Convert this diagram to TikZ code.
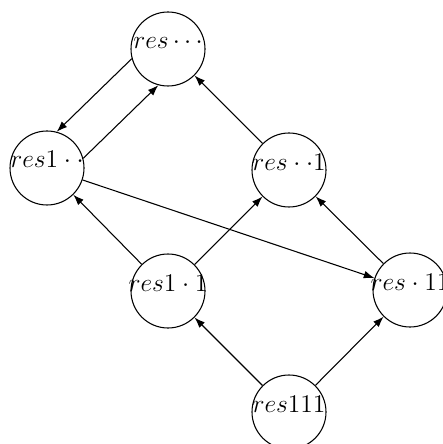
\documentclass[tikz,border=0pt]{standalone}
\usetikzlibrary{arrows.meta}
\begin{document}
\begin{tikzpicture}[x=0.016529cm,y=-0.016529cm,
  state/.style={circle,draw,line width=0.5pt,minimum size=1.223cm,inner sep=0pt},
  lbl/.style={anchor=base,inner sep=0pt,font=\fontsize{13}{15}\selectfont},
  edge/.style={line width=0.5pt,-{Latex[length=5pt,width=3.6pt]}}]
\useasboundingbox (0,0) rectangle (442,444);
% lattice positions
\node[state] (a) at (168,49)  {};
\node[state] (b) at (47,168)  {};
\node[state] (c) at (289,170) {};
\node[state] (d) at (168,291) {};
\node[state] (e) at (410,290) {};
\node[state] (f) at (289,412) {};
% labels, set on the baseline through each centre
\node[lbl] (ta) at (a.center) {$res\cdots$};
\node[lbl] (tb) at (b.center) {$res1\cdot\cdot$};
\node[lbl] (tc) at (c.center) {$res\cdot\cdot1$};
\node[lbl] (td) at (d.center) {$res1\cdot1$};
\node[lbl] (te) at (e.center) {$res\cdot11$};
\node[lbl] (tf) at (f.center) {$res111$};
% order relations
\draw[edge] (a.195) -- (b.75);
\draw[edge] (b.15) -- (a.255);
\draw[edge] (c) -- (a);
\draw[edge] (d) -- (b);
\draw[edge] (d) -- (c);
\draw[edge] (b) -- (e);
\draw[edge] (e) -- (c);
\draw[edge] (f) -- (d);
\draw[edge] (f) -- (e);
\end{tikzpicture}
\end{document}
